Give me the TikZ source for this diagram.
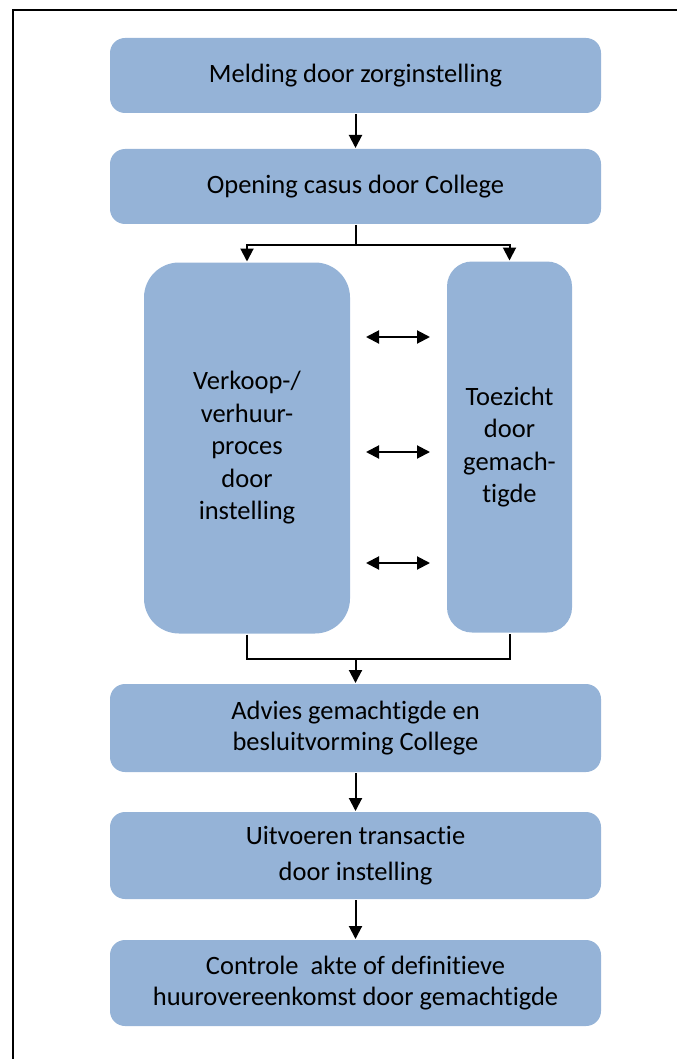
\documentclass[tikz,border=0pt]{standalone}
\usepackage{fontspec}
\setmainfont[Ligatures=NoCommon]{Carlito}
\usetikzlibrary{arrows.meta,positioning}

\definecolor{boxblue}{RGB}{149,179,215}

\begin{document}
\begin{tikzpicture}[x=1pt,y=-1pt,>={Triangle[length=13pt,width=13pt]},line width=2pt,node distance=34pt,
    block/.style={fill=boxblue,rounded corners=15pt,minimum width=491pt,minimum height=75pt,inner sep=0pt,align=center,font=\fontsize{26.5}{30.5}\selectfont},
    tall/.style={fill=boxblue,minimum height=371pt,inner sep=0pt,align=center,font=\fontsize{26.5}{32.5}\selectfont}]
            \useasboundingbox (0,0) rectangle (677,1059);
            \draw (13,1059) -- (13,10) -- (677,10);

            \node[block]   (melding) at (355.5,75.5)  {Melding door zorginstelling};
            \node[block]   (opening) [below=of melding] {Opening casus door College};
            \node[tall, minimum width=206pt, rounded corners=35pt] (verkoop) at (247,448) {Verkoop-/\\verhuur-\\proces\\door\\instelling};
            \node[tall, minimum width=125pt, rounded corners=25pt] (toezicht) at (509.5,447) {Toezicht\\door\\gemach-\\tigde};
            \node[block, minimum height=88pt] (advies) at (355.5,728) {Advies gemachtigde en\\besluitvorming College};
            \node[block, minimum height=87pt] (uitvoeren) [below=38pt of advies] {Uitvoeren transactie\\[6pt]door instelling};
            \node[block, minimum height=86pt] (controle) [below=39pt of uitvoeren] {Controle\ \ akte of definitieve\\huurovereenkomst door gemachtigde};

            \coordinate (split) at (355.5,245);
            \coordinate (join)  at (355.5,659);

            \path[->]
                (melding) edge (opening)
                (advies) edge (uitvoeren)
                (uitvoeren) edge (controle)
                ;
            \draw (opening.south) -- (split);
            \draw[->] (split) -| (verkoop.north);
            \draw[->] (split) -| (toezicht.north);
            \draw (verkoop.south) |- (join) -| (toezicht.south);
            \draw[->] (join) -- (advies.north);

            % wisselwerking tussen proces en toezicht
            \foreach \y [count=\i] in {337,452,563} {
                \coordinate (l\i) at (366,\y);
                \coordinate (r\i) at (430,\y);
                \draw[<->] (l\i) -- (r\i);
            }
        \end{tikzpicture}
\end{document}
